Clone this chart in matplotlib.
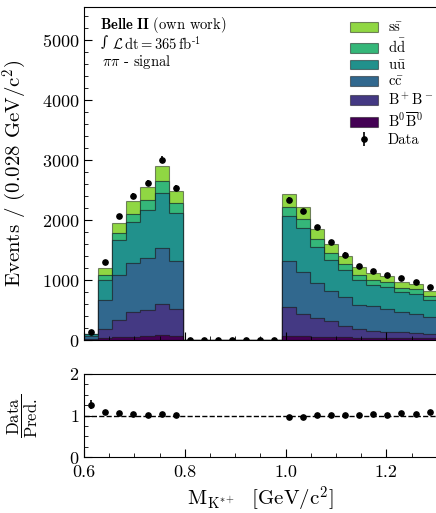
"""Stacked K*+ mass distribution with data/prediction ratio."""
import matplotlib
matplotlib.use("Agg")
import matplotlib.pyplot as plt
import numpy as np

plt.rcParams["font.family"] = "serif"
plt.rcParams["font.serif"] = ["cmr10"]
plt.rcParams["mathtext.fontset"] = "cm"
plt.rcParams["axes.formatter.use_mathtext"] = True

# 25 bins of 0.028 GeV/c^2 between 0.6 and 1.3
bin_edges = np.linspace(0.6, 1.3, 26)
gap = [0] * 7

b0b0 = [5, 40, 45, 55, 60, 80, 70] + gap + [72, 64, 55, 50, 45, 40, 40, 35, 35, 30, 30]
bpbm = [15, 150, 290, 405, 440, 520, 447] + gap + [471, 369, 312, 261, 194, 143, 115, 104, 93, 81, 75]
ccbar = [40, 484, 755, 817, 860, 938, 800] + gap + [779, 705, 583, 511, 472, 406, 412, 378, 333, 322, 284]
uubar = [35, 333, 580, 695, 807, 917, 800] + gap + [750, 722, 605, 511, 456, 411, 355, 371, 339, 334, 278]
ddbar = [5, 77, 115, 128, 160, 195, 166] + gap + [145, 157, 128, 117, 100, 88, 78, 84, 67, 77, 66]
ssbar = [5, 112, 167, 222, 228, 255, 200] + gap + [216, 194, 172, 144, 133, 123, 111, 100, 94, 89, 89]
data = [133, 1305, 2060, 2400, 2622, 3005, 2538] + gap + [2338, 2144, 1877, 1633, 1422, 1227, 1144, 1088, 1030, 961, 888]

components = [b0b0, bpbm, ccbar, uubar, ddbar, ssbar]
labels = [r"$\mathrm{B^0\overline{B}^0}$", r"$\mathrm{B^+B^-}$", r"$\mathrm{c\bar{c}}$",
          r"$\mathrm{u\bar{u}}$", r"$\mathrm{d\bar{d}}$", r"$\mathrm{s\bar{s}}$"]
colors = plt.cm.viridis(np.linspace(0, 1, 7))[:6]

centers = 0.5 * (bin_edges[:-1] + bin_edges[1:])
data = np.array(data, dtype=float)
pred = np.sum(np.array(components, dtype=float), axis=0)

fig = plt.figure(figsize=(4.36, 5.13), dpi=100)
ax = fig.add_axes([0.1927, 0.3372, 0.809, 0.649])
rax = fig.add_axes([0.1927, 0.1086, 0.809, 0.1624])

ax.hist([centers] * 6, bins=bin_edges, weights=components, stacked=True,
        histtype="stepfilled", color=colors, edgecolor=(0, 0, 0, 0.45),
        linewidth=0.8, label=labels)
ax.errorbar(centers, data, yerr=np.sqrt(data), fmt="o", color="black",
            markersize=3.8, elinewidth=1.2, capsize=0, label="Data")

ax.set_xlim(0.6, 1.3)
ax.set_ylim(0, 5550)
ax.set_yticks(np.arange(0, 5001, 1000))
ax.set_yticks(np.arange(0, 5550, 200), minor=True)
ax.set_xticks(np.arange(0.6, 1.31, 0.2))
ax.set_xticks(np.arange(0.6, 1.31, 0.05), minor=True)
ax.tick_params(labelbottom=False)
ax.set_ylabel(r"Events / (0.028 GeV/c$^2$)", fontsize=15)
ax.yaxis.set_label_coords(-0.157, 0.5)

for a in (ax, rax):
    a.tick_params(which="both", direction="in", labelsize=13)
    a.tick_params(which="major", length=6)
    a.tick_params(which="minor", length=3)

ax.text(0.045, 0.975, r"$\mathbf{Belle\ II}$ (own work)", transform=ax.transAxes,
        fontsize=10.5, va="top", ha="left")
ax.text(0.048, 0.915, "\u222b", transform=ax.transAxes, fontsize=10,
        va="top", ha="left", family="DejaVu Serif", style="italic")
ax.text(0.08, 0.918, r"$\mathcal{L}\,\mathrm{dt} = 365\,\mathrm{fb}^{\text{-}1}$",
        transform=ax.transAxes, fontsize=10.5, va="top", ha="left")
ax.text(0.05, 0.862, r"$\pi\pi$ - signal", transform=ax.transAxes,
        fontsize=10.5, va="top", ha="left")

ax.legend(loc="upper left", bbox_to_anchor=(0.754, 0.958), frameon=False,
          fontsize=10.5, handlelength=1.9, handleheight=0.65, labelspacing=0.2,
          handletextpad=0.7, borderpad=0, borderaxespad=0)

# ratio panel, only where a prediction exists
mask = pred > 0
ratio = np.full_like(data, np.nan)
ratio_err = np.full_like(data, np.nan)
ratio[mask] = data[mask] / pred[mask]
ratio_err[mask] = np.sqrt(data[mask]) / pred[mask]
rax.errorbar(centers[mask], ratio[mask], yerr=ratio_err[mask], fmt="o",
             color="black", markersize=3.8, elinewidth=1.2, capsize=0)
rax.axhline(1, color="black", linestyle="--", linewidth=1)
rax.set_xlim(0.6, 1.3)
rax.set_ylim(0, 2)
rax.set_yticks([0, 1, 2])
rax.set_yticks(np.arange(0, 2.01, 0.25), minor=True)
rax.set_xticks(np.arange(0.6, 1.31, 0.2))
rax.set_xticks(np.arange(0.6, 1.31, 0.05), minor=True)
rax.xaxis.set_major_formatter(matplotlib.ticker.FormatStrFormatter("%.1f"))
rax.tick_params(axis="x", pad=5)
rax.set_ylabel(r"$\dfrac{\mathrm{Data}}{\mathrm{Pred.}}$", fontsize=12)
rax.yaxis.set_label_coords(-0.125, 0.5)
rax.set_xlabel(r"$\mathrm{M_{K^{*+}}}$  [GeV/c$^2$]", fontsize=15)

fig.savefig("out.png", dpi=100)
plt.close(fig)
